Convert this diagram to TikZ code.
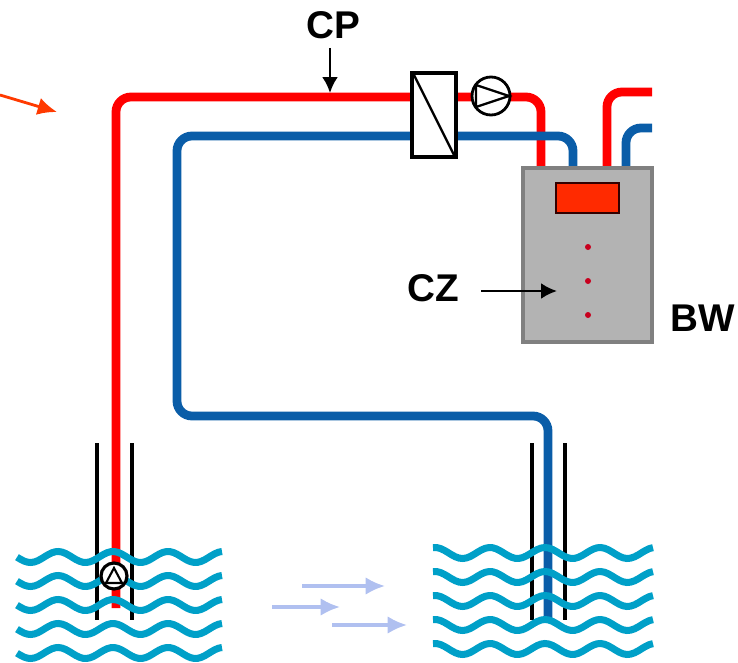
\documentclass[tikz,border=0pt]{standalone}
\usepackage{fontspec}
\setmainfont{Liberation Sans}
\usetikzlibrary{arrows.meta}

\definecolor{pipered}{HTML}{FF0000}
\definecolor{pipeblue}{HTML}{0A5DA8}
\definecolor{water}{HTML}{00A0C8}
\definecolor{boxgray}{HTML}{B3B3B3}
\definecolor{boxedge}{HTML}{808080}
\definecolor{display}{HTML}{FF2A00}
\definecolor{dotred}{HTML}{C8001E}
\definecolor{flowblue}{HTML}{B0C0F0}
\definecolor{inflow}{HTML}{FF3A00}

\tikzset{
  hot/.style = {line width=5pt, pipered, rounded corners=0.3cm},
  cold/.style = {line width=5pt, pipeblue, rounded corners=0.3cm},
  casing/.style = {line width=2.2pt, black},
  wave/.style = {line width=4pt, water},
  sign/.style = {font=\fontsize{22}{26}\selectfont\bfseries, inner sep=2pt},
  pointer/.style = {-{Latex[length=9pt, width=9pt]}, line width=1.5pt},
  flow/.style = {-{Latex[length=11pt, width=10pt]}, line width=1.8pt, flowblue}
}

\begin{document}
\begin{tikzpicture}[x=0.02cm, y=-0.02cm]
\useasboundingbox (0,0) rectangle (738,663);

% well casings
\foreach \xa/\xb in {97/132, 532/565}
{
\draw [casing] (\xa,443) -- (\xa,620);
\draw [casing] (\xb,443) -- (\xb,620);
}

% pipes
\draw [hot] (116,608) -- (116,97) -- (541,97) -- (541,168);
\draw [cold] (573,168) -- (573,136) -- (177,136) -- (177,416) -- (548,416) -- (548,620);
\draw [hot] (607,168) -- (607,92) -- (652,92);
\draw [cold] (626,168) -- (626,128) -- (652,128);

% ground water, period 55
\foreach \i in {0,...,4}
{
\draw [wave] plot [domain=17:222, samples=60, smooth] (\x, {557+24*\i-5.5*cos(6.545*(\x-58))});
\draw [wave] plot [domain=433:653, samples=60, smooth] (\x, {553+24*\i-5.5*cos(6.545*(\x-490))});
}
\foreach \xa/\xb/\y in {302/385/586, 272/340/607, 332/407/625}
{
\draw [flow] (\xa,\y) -- (\xb,\y);
}

% well pump
\draw [line width=1.8pt, fill=white] (114,576) circle [radius=13];
\draw [line width=1.2pt] (106,583) -- (122,583) -- (114,568) -- cycle;

% heat exchanger and circulation pump
\draw [line width=1.8pt, fill=white] (412,73) rectangle (456,157);
\draw [line width=1.3pt] (414,75) -- (454,155);
\draw [line width=1.6pt, fill=white] (491,96) circle [radius=19];
\draw [line width=1.3pt] (476,85) -- (509,96) -- (476,107) -- cycle;

% heat pump unit
\draw [boxedge, line width=1.8pt, fill=boxgray] (523,168) rectangle (652,342);
\draw [draw=black!80!red, line width=1.3pt, fill=display] (556,183) rectangle (619,213);
\foreach \y in {247,281,315}
{
\fill [dotred] (588,\y) circle [radius=3];
}

% labels
\node [sign] (cp) at (333,25) {CP};
\node [sign] (cz) at (433,288) {CZ};
\node [sign] (bw) at (703,318) {BW};
\coordinate (cpend) at (330,93);
\coordinate (czend) at (557,291);
\draw [pointer, shorten <=3pt] (cp.south -| cpend) -- (cpend);
\draw [pointer] (481,291) -- (czend);

\coordinate (intail) at (0,95);
\coordinate (inhead) at (57,112);
\draw [-{Latex[length=11pt, width=10pt]}, line width=1.6pt, inflow] (intail) -- (inhead);
\end{tikzpicture}
\end{document}
